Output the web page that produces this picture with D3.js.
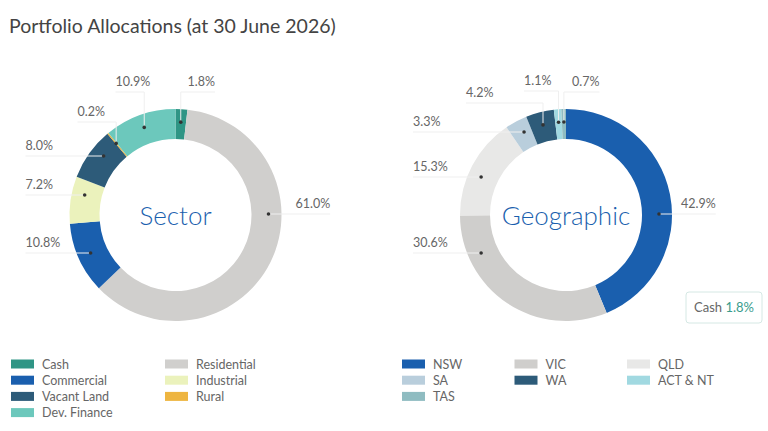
<!DOCTYPE html>
<html>
<head>
<meta charset="utf-8">
<script src="https://cdn.jsdelivr.net/npm/d3@7/dist/d3.min.js"></script>
<style>
  body { margin: 0; background: #fff; }
  svg { display: block; font-family: Lato, "Open Sans", sans-serif; }
  .lbl { font-size: 12.5px; fill: #666; }
  .leg { font-size: 12.5px; fill: #666; }
</style>
</head>
<body>
<svg id="chart" width="768" height="431"></svg>
<script>
var sectorNames = ["Cash", "Residential", "Commercial", "Industrial", "Vacant Land", "Rural", "Dev. Finance"];
var sectorValues = [1.8, 61.0, 10.8, 7.2, 8.0, 0.2, 10.9];
var sectorColors = ["#2f9585", "#d0cfcd", "#1a5fae", "#ebf2bc", "#2d5b79", "#eeb540", "#6cc8bc"];

var geoNames = ["NSW", "VIC", "QLD", "SA", "WA", "ACT & NT", "TAS"];
var geoValues = [42.9, 30.6, 15.3, 3.3, 4.2, 1.1, 0.7];
var geoColors = ["#1a5fae", "#cfcecc", "#e8e8e7", "#b9cedc", "#2d5b79", "#a1d9e1", "#8fbcc1"];

var cashValue = 1.8;

// label placement, relative to the donut centre: x = where the text starts, y = connector line
var sectorLabelPos = [[12, -123], [120, -1], [-150, 38], [-150, -20], [-150, -59], [-98, -93], [-60, -123]];
var geoLabelPos = [[115, -1], [-153, 38], [-153, -38], [-153, -83], [-100, -112], [-42, -124], [6, -123]];

var svg = d3.select("#chart");
var outerR = 106, innerR = 76, dotR = 93;

svg.append("text")
    .attr("x", 9)
    .attr("y", 33)
    .attr("font-size", 19.5)
    .attr("fill", "#444")
    .text("Portfolio Allocations (at 30 June 2026)");

function donut(cx, cy, names, values, colors, labelPos, title) {
  var pie = d3.pie().sort(null).value(function(d) { return d; });
  var arcs = pie(values);
  var arc = d3.arc().innerRadius(innerR).outerRadius(outerR);
  var mid = d3.arc().innerRadius(dotR).outerRadius(dotR);

  var g = svg.append("g").attr("transform", "translate(" + cx + "," + cy + ")");

  g.selectAll("path.slice")
      .data(arcs)
      .enter().append("path")
      .attr("class", "slice")
      .attr("d", arc)
      .attr("fill", function(d, i) { return colors[i]; });

  g.append("text")
      .attr("text-anchor", "middle")
      .attr("y", 10)
      .attr("font-size", 26)
      .attr("font-weight", 300)
      .attr("fill", "#1a5fae")
      .text(title);

  arcs.forEach(function(a, i) {
    var lx = labelPos[i][0], ly = labelPos[i][1];
    var txt = g.append("text")
        .attr("class", "lbl")
        .attr("x", lx)
        .attr("y", ly - 6)
        .text(values[i].toFixed(1) + "%");
    var w = txt.node().getComputedTextLength();

    // dot: where the label's line crosses the slice, else the slice centroid
    var dot = null;
    if (Math.abs(ly) < dotR) {
      var a1 = Math.acos(-ly / dotR), cands = [a1, 2 * Math.PI - a1];
      cands.forEach(function(t) {
        if (t >= a.startAngle && t <= a.endAngle) {
          var p = [dotR * Math.sin(t), -dotR * Math.cos(t)];
          if (!dot || Math.abs(p[0] - lx) < Math.abs(dot[0] - lx)) dot = p;
        }
      });
    }
    if (!dot) dot = mid.centroid(a);

    var path = d3.path();
    if (dot[0] <= lx) { path.moveTo(lx + w, ly); path.lineTo(dot[0], ly); }
    else { path.moveTo(lx, ly); path.lineTo(dot[0], ly); }
    path.lineTo(dot[0], dot[1]);
    g.append("path")
        .attr("d", path.toString())
        .attr("fill", "none")
        .attr("stroke", "#efefef")
        .attr("stroke-width", 1);

    g.append("circle")
        .attr("cx", dot[0])
        .attr("cy", dot[1])
        .attr("r", 1.8)
        .attr("fill", "#333");
  });
}

function legend(x0, colStep, cols, names, colors) {
  var g = svg.append("g");
  var item = g.selectAll("g.item")
      .data(names)
      .enter().append("g")
      .attr("class", "item")
      .attr("transform", function(d, i) {
        return "translate(" + (x0 + (i % cols) * colStep) + "," + (364 + Math.floor(i / cols) * 16.2) + ")";
      });
  item.append("rect")
      .attr("x", 0).attr("y", -4.5)
      .attr("width", 23).attr("height", 9)
      .attr("fill", function(d, i) { return colors[i]; });
  item.append("text")
      .attr("class", "leg")
      .attr("x", 31)
      .attr("y", 4.5)
      .text(function(d) { return d; });
}

donut(175.5, 215, sectorNames, sectorValues, sectorColors, sectorLabelPos, "Sector");
donut(566, 215, geoNames, geoValues, geoColors, geoLabelPos, "Geographic");

legend(11, 154, 2, sectorNames, sectorColors);
legend(402, 112.5, 3, geoNames, geoColors);

// cash note box
var box = svg.append("g").attr("transform", "translate(686,292)");
box.append("rect")
    .attr("width", 76).attr("height", 31).attr("rx", 3)
    .attr("fill", "#fff").attr("stroke", "#d5e8e4");
var bt = box.append("text")
    .attr("x", 38).attr("y", 20)
    .attr("text-anchor", "middle")
    .attr("font-size", 13);
bt.append("tspan").attr("fill", "#666").text("Cash ");
bt.append("tspan").attr("fill", "#3a9c8c").text(cashValue.toFixed(1) + "%");
</script>
</body>
</html>
